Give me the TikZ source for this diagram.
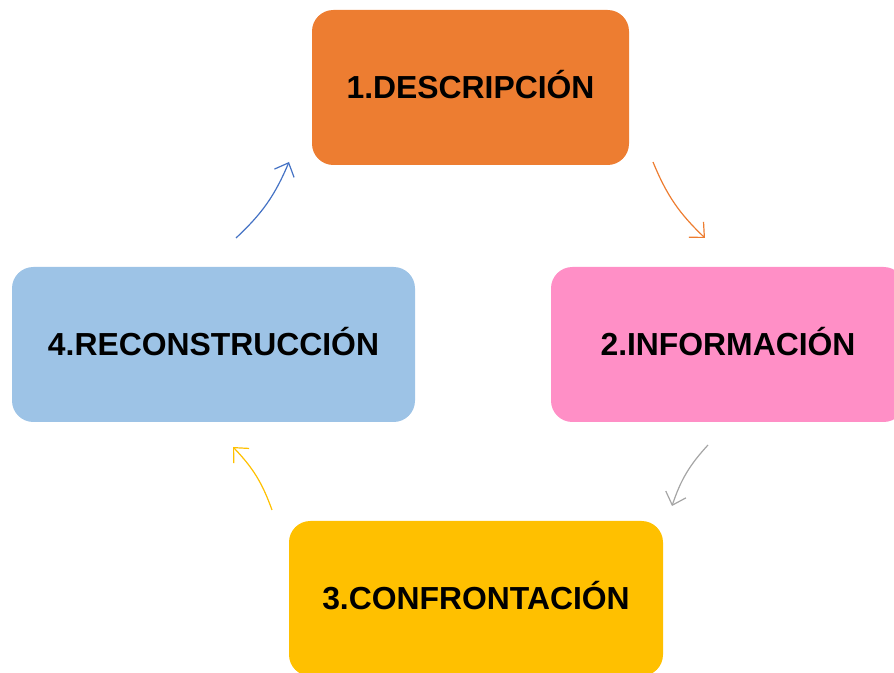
\documentclass[tikz,border=0pt]{standalone}
\usepackage{fontspec}
\setmainfont{Liberation Sans}
\usetikzlibrary{arrows.meta}

\definecolor{cDesc}{RGB}{237,125,49}
\definecolor{cInfo}{RGB}{255,143,198}
\definecolor{cConf}{RGB}{255,192,0}
\definecolor{cReco}{RGB}{157,195,230}
\definecolor{cGray}{RGB}{165,165,165}
\definecolor{cBlue}{RGB}{68,114,196}

\tikzset{every picture/.style={line width=0.75pt}}
\tikzset{
  stage/.style={rectangle, rounded corners=16pt, draw=none, minimum height=116.25pt,
    font=\fontsize{23.9}{28}\selectfont\bfseries, text=black, inner sep=0pt,
    text height=17pt, text depth=0pt},
  cyc/.style={line width=0.9pt, -{Straight Barb[length=8.5pt,width=16pt]}}
}

\begin{document}
\begin{tikzpicture}[x=0.75pt,y=0.75pt,yscale=-1,xscale=1]
\useasboundingbox (0,0) rectangle (894,673);

%Shape: Rounded Rect [id:stage1]
\node [stage, fill=cDesc, minimum width=237.75pt] (desc) at (470.5,87.5) {1.DESCRIPCIÓN};
%Shape: Rounded Rect [id:stage2]
\node [stage, fill=cInfo, minimum width=265.5pt] (info) at (728,344.5) {2.INFORMACIÓN};
%Shape: Rounded Rect [id:stage3]
\node [stage, fill=cConf, minimum width=280.5pt] (conf) at (476,598.5) {3.CONFRONTACIÓN};
%Shape: Rounded Rect [id:stage4]
\node [stage, fill=cReco, minimum width=302.25pt] (reco) at (213.5,344.5) {4.RECONSTRUCCIÓN};

%Curve Lines
\coordinate (a1) at (653,162);
\coordinate (b1) at (705,238);
\coordinate (a2) at (708,445);
\coordinate (b2) at (672,506);
\coordinate (a3) at (272,510);
\coordinate (b3) at (233,447);
\coordinate (a4) at (236,238);
\coordinate (b4) at (289,162);
\draw [cyc, cDesc] (a1) to[bend left=12] (b1);
\draw [cyc, cGray] (a2) to[bend left=12] (b2);
\draw [cyc, cConf] (a3) to[bend left=12] (b3);
\draw [cyc, cBlue] (a4) to[bend left=12] (b4);
\end{tikzpicture}
\end{document}
